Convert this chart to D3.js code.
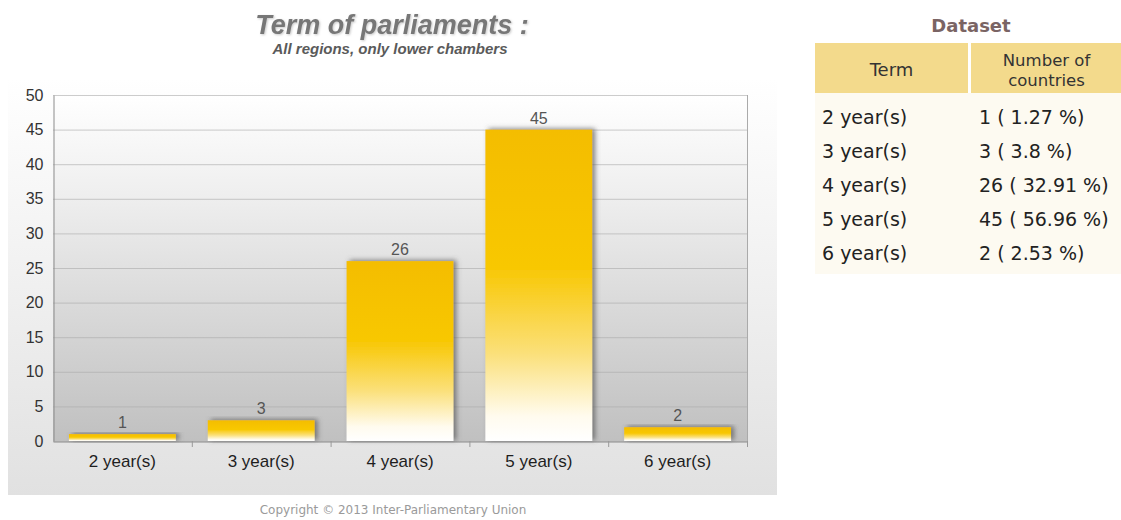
<!DOCTYPE html>
<html>
<head>
<meta charset="utf-8">
<script src="https://cdn.jsdelivr.net/npm/d3@7"></script>
<style>
html,body{margin:0;padding:0;background:#fff;}
svg{display:block;}
</style>
</head>
<body>
<div id="chart"></div>
<script>
// ---- data ----
const categories = ["2 year(s)", "3 year(s)", "4 year(s)", "5 year(s)", "6 year(s)"];
const values = [1, 3, 26, 45, 2];
const percents = ["1.27", "3.8", "32.91", "56.96", "2.53"];
const yTicks = [0, 5, 10, 15, 20, 25, 30, 35, 40, 45, 50];
const titleText = "Term of parliaments :";
const subtitleText = "All regions, only lower chambers";
const copyrightText = "Copyright \u00A9 2013 Inter-Parliamentary Union";
const tableTitle = "Dataset";
const tableHeaders = ["Term", ["Number of", "countries"]];

// ---- layout ----
const W = 1121, H = 520;
const plot = {left: 53, right: 747, top: 95, bottom: 441};

const svg = d3.select("#chart").append("svg").attr("width", W).attr("height", H);
const defs = svg.append("defs");

const gPanel = defs.append("linearGradient").attr("id", "panelGrad").attr("x1", 0).attr("y1", 0).attr("x2", 0).attr("y2", 1);
gPanel.append("stop").attr("offset", "0%").attr("stop-color", "#ffffff");
gPanel.append("stop").attr("offset", "100%").attr("stop-color", "#e1e1e1");

const gPlot = defs.append("linearGradient").attr("id", "plotGrad").attr("x1", 0).attr("y1", 0).attr("x2", 0).attr("y2", 1);
gPlot.append("stop").attr("offset", "0%").attr("stop-color", "#ffffff");
gPlot.append("stop").attr("offset", "30%").attr("stop-color", "#eeeeee");
gPlot.append("stop").attr("offset", "100%").attr("stop-color", "#c0c0c0");

const gBar = defs.append("linearGradient").attr("id", "barGrad").attr("x1", 0).attr("y1", 0).attr("x2", 0).attr("y2", 1);
gBar.append("stop").attr("offset", "0%").attr("stop-color", "#f4bd00");
gBar.append("stop").attr("offset", "45%").attr("stop-color", "#f8c806");
gBar.append("stop").attr("offset", "72%").attr("stop-color", "#fbe07a");
gBar.append("stop").attr("offset", "92%").attr("stop-color", "#fffbee");
gBar.append("stop").attr("offset", "100%").attr("stop-color", "#ffffff");

const shadow = defs.append("filter").attr("id", "barShadow").attr("x", "-20%").attr("y", "-20%").attr("width", "140%").attr("height", "140%");
shadow.append("feDropShadow").attr("dx", 3).attr("dy", -1).attr("stdDeviation", 2.5)
  .attr("flood-color", "#555").attr("flood-opacity", 0.7);

const tshadow = defs.append("filter").attr("id", "textShadow").attr("x", "-10%").attr("y", "-30%").attr("width", "120%").attr("height", "160%");
tshadow.append("feDropShadow").attr("dx", 1).attr("dy", 1).attr("stdDeviation", 1.2)
  .attr("flood-color", "#bbb").attr("flood-opacity", 0.8);

// panel
svg.append("rect").attr("x", 8).attr("y", 78).attr("width", 769).attr("height", 417)
  .attr("fill", "url(#panelGrad)");

// plot background
svg.append("rect").attr("x", plot.left).attr("y", plot.top)
  .attr("width", plot.right - plot.left).attr("height", plot.bottom - plot.top)
  .attr("fill", "url(#plotGrad)");

// scales
const x = d3.scaleBand().domain(categories).range([plot.left, plot.right])
  .paddingInner(0.23).paddingOuter(0.115);
const y = d3.scaleLinear().domain([0, 50]).range([plot.bottom, plot.top]);

// gridlines
svg.append("g").selectAll("line").data(yTicks).join("line")
  .attr("x1", plot.left).attr("x2", plot.right)
  .attr("y1", d => y(d) + 0.5).attr("y2", d => y(d) + 0.5)
  .attr("stroke", "#aaaaaa").attr("stroke-opacity", 0.6).attr("stroke-width", 1);

// right frame
svg.append("line").attr("x1", plot.right + 0.5).attr("x2", plot.right + 0.5)
  .attr("y1", plot.top).attr("y2", plot.bottom + 6)
  .attr("stroke", "#aaa");

// y axis
const yAxis = d3.axisLeft(y).tickValues(yTicks).tickSize(0).tickPadding(10);
const gy = svg.append("g").attr("transform", `translate(${plot.left + 0.5},0)`).call(yAxis);
gy.select(".domain").attr("stroke", "#8c8c8c");
gy.selectAll("text").attr("font-family", "'Liberation Sans', Arial, sans-serif")
  .attr("font-size", 16).attr("fill", "#333");

// x axis
const xAxis = d3.axisBottom(x).tickSize(0).tickPadding(13);
const gx = svg.append("g").attr("transform", `translate(0,${plot.bottom + 0.5})`).call(xAxis);
gx.select(".domain").attr("stroke", "#8c8c8c");
gx.selectAll("text").attr("font-family", "'Liberation Sans', Arial, sans-serif")
  .attr("font-size", 17).attr("fill", "#1e1e1e");

// x tick separators at band boundaries
const step = x.step();
const bounds = d3.range(1, categories.length + 1).map(i => plot.left + i * step);
svg.append("g").selectAll("line").data(bounds).join("line")
  .attr("x1", d => d + 0.5).attr("x2", d => d + 0.5)
  .attr("y1", plot.bottom).attr("y2", plot.bottom + 6)
  .attr("stroke", "#999");

// bars
const data = categories.map((c, i) => ({c, v: values[i], p: percents[i]}));
svg.append("g").selectAll("rect").data(data).join("rect")
  .attr("x", d => x(d.c)).attr("width", x.bandwidth())
  .attr("y", d => y(d.v)).attr("height", d => y(0) - y(d.v))
  .attr("fill", "url(#barGrad)")
  .attr("filter", "url(#barShadow)");

// value labels
svg.append("g").selectAll("text").data(data).join("text")
  .attr("x", d => x(d.c) + x.bandwidth() / 2)
  .attr("y", d => y(d.v) - 6)
  .attr("text-anchor", "middle")
  .attr("font-family", "'Liberation Sans', Arial, sans-serif")
  .attr("font-size", 16).attr("fill", "#555")
  .text(d => d.v);

// titles
svg.append("text").attr("x", 392).attr("y", 34).attr("text-anchor", "middle")
  .attr("font-family", "'Liberation Sans', Arial, sans-serif")
  .attr("font-size", 27).attr("font-weight", "bold").attr("font-style", "italic")
  .attr("fill", "#777").attr("filter", "url(#textShadow)")
  .text(titleText);
svg.append("text").attr("x", 390).attr("y", 54).attr("text-anchor", "middle")
  .attr("font-family", "'Liberation Sans', Arial, sans-serif")
  .attr("font-size", 15).attr("font-weight", "bold").attr("font-style", "italic")
  .attr("fill", "#5a5a5a")
  .text(subtitleText);

// copyright
svg.append("text").attr("x", 393).attr("y", 514).attr("text-anchor", "middle")
  .attr("font-family", "'DejaVu Sans', Verdana, sans-serif")
  .attr("font-size", 12).attr("fill", "#9a9a9a")
  .text(copyrightText);

// ---- dataset table ----
const tbl = {left: 815, mid: 971, right: 1130, headTop: 43, headBottom: 93, rowTop: 100, rowH: 34};
const ft = "'DejaVu Sans', Verdana, sans-serif";

svg.append("text").attr("x", 971).attr("y", 32).attr("text-anchor", "middle")
  .attr("font-family", ft).attr("font-size", 18).attr("font-weight", "bold")
  .attr("fill", "#7a6464").text(tableTitle);

svg.append("rect").attr("x", tbl.left).attr("y", tbl.headBottom)
  .attr("width", W - tbl.left).attr("height", tbl.rowTop - tbl.headBottom + tbl.rowH * data.length + 4)
  .attr("fill", "#fdfaf1");

svg.append("rect").attr("x", tbl.left).attr("y", tbl.headTop)
  .attr("width", tbl.mid - 3 - tbl.left).attr("height", tbl.headBottom - tbl.headTop)
  .attr("fill", "#f3da8c");
svg.append("rect").attr("x", tbl.mid).attr("y", tbl.headTop)
  .attr("width", tbl.right - tbl.mid).attr("height", tbl.headBottom - tbl.headTop)
  .attr("fill", "#f3da8c");

svg.append("text").attr("x", (tbl.left + tbl.mid - 3) / 2).attr("y", 76)
  .attr("text-anchor", "middle").attr("font-family", ft).attr("font-size", 18)
  .attr("fill", "#333").text(tableHeaders[0]);
svg.append("g").selectAll("text").data(tableHeaders[1]).join("text")
  .attr("x", (tbl.mid + tbl.right) / 2 - 4)
  .attr("y", (d, i) => 66 + i * 20)
  .attr("text-anchor", "middle").attr("font-family", ft).attr("font-size", 16.5)
  .attr("fill", "#333")
  .text(d => d);

const rows = svg.append("g").selectAll("g").data(data).join("g")
  .attr("transform", (d, i) => `translate(0,${tbl.rowTop + i * tbl.rowH + tbl.rowH / 2})`);
rows.append("text").attr("x", tbl.left + 7).attr("dy", "0.35em")
  .attr("font-family", ft).attr("font-size", 19).attr("fill", "#222")
  .text(d => d.c);
rows.append("text").attr("x", tbl.mid + 8).attr("dy", "0.35em")
  .attr("font-family", ft).attr("font-size", 19).attr("fill", "#222")
  .text(d => `${d.v} ( ${d.p} %)`);
</script>
</body>
</html>
